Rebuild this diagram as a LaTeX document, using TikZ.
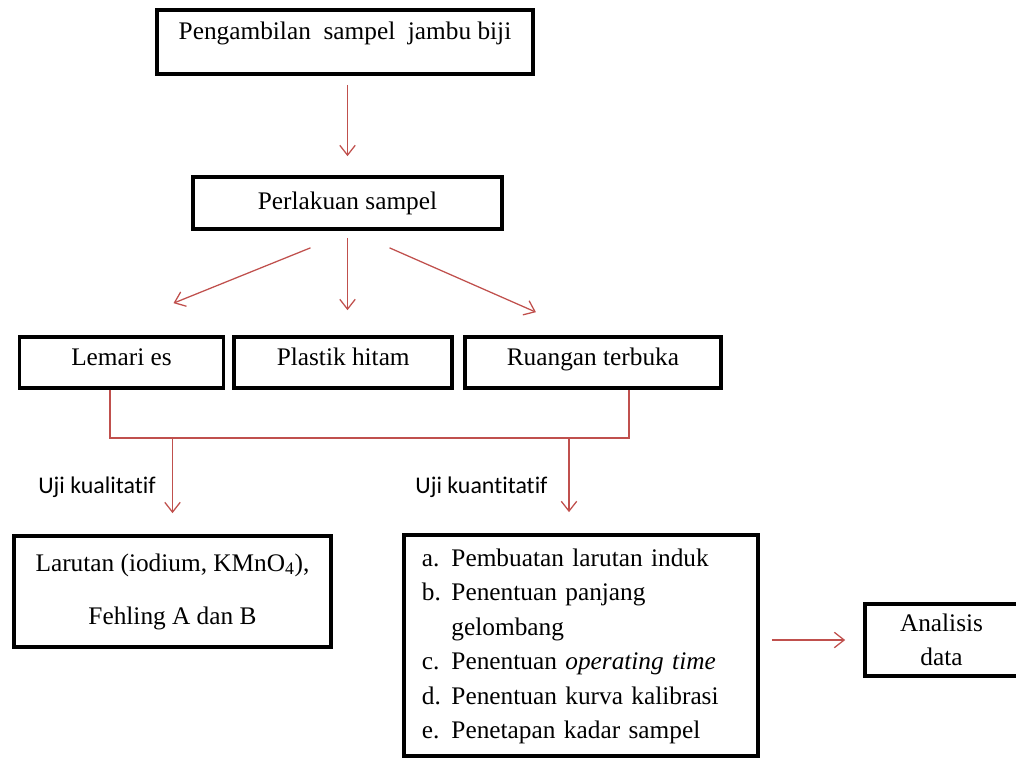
\documentclass[tikz,border=0pt]{standalone}
\usepackage{fontspec}
\setmainfont{Liberation Serif}
\newfontfamily\ujifont[Ligatures=NoCommon]{Carlito}
\usepackage{tikz}
\usetikzlibrary{positioning,calc,arrows.meta}
\definecolor{merah}{RGB}{192,80,77}

\tikzset{
  kotak/.style={draw, line width=2.6pt, inner sep=0pt, font=\fontsize{18}{24.5}\selectfont},
  kotakbaris/.style={kotak, text height=0.7cm, text depth=0.575cm},
  garis/.style={draw=merah, line width=0.9pt},
  panah/.style={garis, -{Straight Barb[length=7pt,width=11pt]}},
  ujilabel/.style={font=\ujifont\fontsize{17}{20}\selectfont, inner sep=0pt}
}

\begin{document}
\begin{tikzpicture}[x=0.025cm, y=-0.025cm]
  \useasboundingbox (0,0) rectangle (1016,760);

  % Kotak atas
  \node[kotak, minimum width=9.4cm, text height=0.75cm, text depth=0.85cm] (ambil) at (345,42) {Pengambilan\ \ sampel\ \ jambu biji};
  \node[kotak, minimum width=7.725cm, minimum height=1.3cm] (perlakuan) at (347.5,203) {Perlakuan sampel};

  % Tiga perlakuan (disusun ke kanan)
  \node[kotakbaris, minimum width=5.1cm] (lemari) at (121.5,362.5) {Lemari es};
  \node[kotakbaris, minimum width=5.45cm, right=0.175cm of lemari] (plastik) {Plastik hitam};
  \node[kotakbaris, minimum width=6.4cm, right=0.225cm of plastik] (ruangan) {Ruangan terbuka};

  % Kotak bawah
  \node[kotak, minimum width=7.925cm, minimum height=2.775cm, align=center, font=\fontsize{18}{37.7}\selectfont] (kual) at (172.5,591.5) {Larutan (iodium, KMnO\textsubscript{4}),\\Fehling A dan B};
  \node[kotak, text width=7.95cm, inner xsep=0.45cm, minimum height=5.525cm, align=left] (kuan) at (581,645.5) {%
    \begin{tabular}{@{}p{21pt}@{}l@{}}
      a. & Pembuatan larutan induk\\
      b. & Penentuan panjang\\
         & gelombang\\
      c. & Penentuan \textit{operating time}\\
      d. & Penentuan kurva kalibrasi\\
      e. & Penetapan kadar sampel
    \end{tabular}};
  \node[kotak, minimum width=3.825cm, minimum height=1.8cm, align=center, font=\fontsize{18}{24.5}\selectfont] (analisis) at (941.5,640) {Analisis\\data};

  % Label uji
  \node[ujilabel] (kualLabel) at (97,487) {Uji kualitatif};
  \node[ujilabel] (kuanLabel) at (481.5,487) {Uji kuantitatif};

  % Titik sambungan
  \coordinate (sikuKiri) at (110,438);
  \coordinate (sikuKanan) at (629,438);
  \coordinate (cabangKanan) at (569,438);

  % Panah
  \draw[panah, shorten <=0.225cm, shorten >=0.475cm] (ambil.south -| perlakuan.north) -- (perlakuan.north);
  \draw[panah] ($(perlakuan.south)+(-37,17)$) -- ($(lemari.north)+(52,-32)$);
  \draw[panah, shorten <=0.175cm, shorten >=0.625cm] (perlakuan.south) -- (perlakuan.south |- plastik.north);
  \draw[panah] ($(perlakuan.south)+(42,17)$) -- ($(ruangan.north)+(-57,-23)$);

  \draw[garis] (sikuKiri |- lemari.south) -- (sikuKiri) -- (sikuKanan) -- (sikuKanan |- ruangan.south);
  \draw[panah, shorten >=0.525cm] (kual.north |- sikuKiri) -- (kual.north);
  \draw[panah, shorten >=0.525cm] (cabangKanan) -- (cabangKanan |- kuan.north);

  \draw[panah, shorten <=0.3cm, shorten >=0.45cm] (kuan.east |- analisis.west) -- (analisis.west);
\end{tikzpicture}
\end{document}
